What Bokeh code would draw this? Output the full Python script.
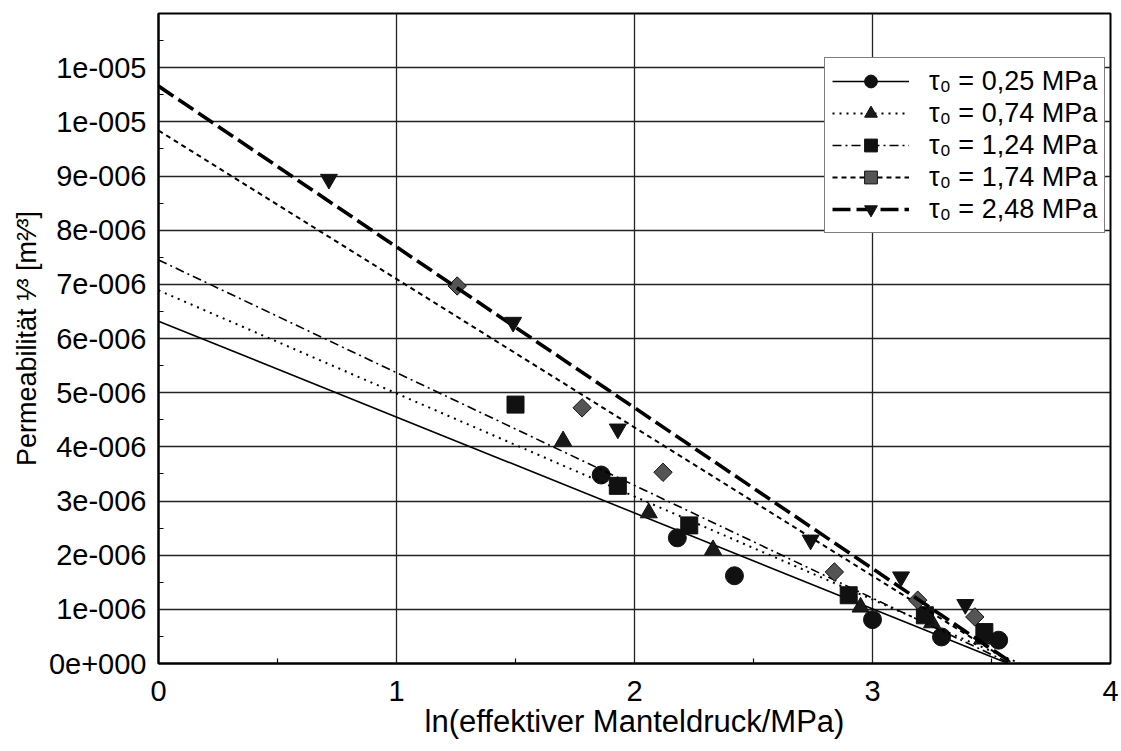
import math
from bokeh.plotting import figure
from bokeh.models import (Range1d, FixedTicker, CustomJSTickFormatter,
                          Legend, LegendItem)
from bokeh.embed import file_html
from bokeh.resources import INLINE

# ---- data ----
series_labels = ["τ₀ = 0,25 MPa", "τ₀ = 0,74 MPa", "τ₀ = 1,24 MPa",
                 "τ₀ = 1,74 MPa", "τ₀ = 2,48 MPa"]

x_025 = [1.86, 2.18, 2.42, 3.00, 3.29, 3.53]
y_025 = [3.48e-6, 2.32e-6, 1.62e-6, 0.81e-6, 0.49e-6, 0.43e-6]

x_074 = [1.70, 2.06, 2.33, 2.95, 3.25, 3.46]
y_074 = [4.11e-6, 2.78e-6, 2.10e-6, 1.04e-6, 0.75e-6, 0.45e-6]

x_124 = [1.50, 1.93, 2.23, 2.90, 3.22, 3.47]
y_124 = [4.78e-6, 3.28e-6, 2.55e-6, 1.26e-6, 0.89e-6, 0.58e-6]

x_174 = [1.255, 1.78, 2.12, 2.84, 3.19, 3.43]
y_174 = [6.97e-6, 4.72e-6, 3.53e-6, 1.69e-6, 1.17e-6, 0.86e-6]

x_248 = [0.716, 1.49, 1.93, 2.74, 3.12, 3.39]
y_248 = [8.94e-6, 6.30e-6, 4.33e-6, 2.28e-6, 1.60e-6, 1.09e-6]

# regression lines: value at x = 0 and x where they reach zero
fit_y0 = [6.32e-6, 6.89e-6, 7.45e-6, 9.84e-6, 10.66e-6]
fit_xend = [3.57, 3.62, 3.58, 3.59, 3.59]

x_ticks = [0, 1, 2, 3, 4]
x_minor = [0.5, 1.5, 2.5, 3.5]
y_ticks = [i * 1e-6 for i in range(0, 12)]
y_minor = [(i + 0.5) * 1e-6 for i in range(0, 12)]

x_title = "ln(effektiver Manteldruck/MPa)"
y_title = "Permeabilität ¹⁄³ [m²⁄³]"

xs = [x_025, x_074, x_124, x_174, x_248]
ys = [y_025, y_074, y_124, y_174, y_248]

# ---- styles ----
markers = ["circle", "triangle", "square", "square", "inverted_triangle"]
angles = [0, 0, 0, math.pi / 4, 0]
sizes = [18, 17, 17, 13, 17]
fills = ["#111111", "#1a1a1a", "#111111", "#555555", "#111111"]
dashes = ["solid", "2 5", "9 4 2 4", "5 4", "18 6"]
widths = [1.6, 2.0, 1.6, 2.0, 3.6]

FONT = "Liberation Sans"

p = figure(width=1121, height=751,
           x_range=Range1d(0, 4), y_range=Range1d(0, 1.2e-5),
           output_backend="svg", toolbar_location=None,
           min_border_left=158, min_border_right=11,
           min_border_top=13, min_border_bottom=88)

p.background_fill_color = "white"
p.border_fill_color = "white"
p.outline_line_color = "black"
p.outline_line_width = 2

# axes
p.xaxis.ticker = FixedTicker(ticks=x_ticks, minor_ticks=x_minor)
p.yaxis.ticker = FixedTicker(ticks=y_ticks, minor_ticks=y_minor)
p.yaxis.formatter = CustomJSTickFormatter(code="""
const m = Math.round(tick * 1e6);
if (m === 0) { return "0e+000"; }
if (m >= 10) { return "1e-005"; }
return m.toFixed(0) + "e-006";
""")
for ax in (p.xaxis[0], p.yaxis[0]):
    ax.axis_line_color = "black"
    ax.axis_line_width = 2
    ax.major_tick_in = 0
    ax.major_tick_out = 0
    ax.minor_tick_in = 5
    ax.minor_tick_out = 0
    ax.minor_tick_line_color = "black"
    ax.minor_tick_line_width = 1.2
    ax.major_label_text_font = FONT
    ax.major_label_text_font_size = "29px"
    ax.major_label_text_color = "black"
    ax.axis_label_text_font = FONT
    ax.axis_label_text_font_style = "normal"
    ax.axis_label_text_color = "black"
p.xaxis.major_label_standoff = 17
p.yaxis.major_label_standoff = 12

p.xaxis.axis_label = x_title
p.xaxis.axis_label_text_font_size = "31px"
p.xaxis.axis_label_standoff = 0

p.yaxis.axis_label = y_title
p.yaxis.axis_label_text_font_size = "27px"
p.yaxis.axis_label_standoff = 4

# grid
p.xgrid.ticker = FixedTicker(ticks=x_ticks)
p.ygrid.ticker = FixedTicker(ticks=y_ticks)
for g in (p.xgrid[0], p.ygrid[0]):
    g.grid_line_color = "#222222"
    g.grid_line_width = 1.3

# data
items = []
for i in range(5):
    lr = p.line([0, fit_xend[i]], [fit_y0[i], 0],
                line_color="black", line_width=widths[i], line_dash=dashes[i])
    sr = p.scatter(xs[i], ys[i], marker=markers[i], size=sizes[i],
                   angle=angles[i],
                   fill_color=fills[i], line_color="#111111", line_width=1)
    items.append(LegendItem(label=series_labels[i], renderers=[lr, sr]))

legend = Legend(items=items, location=(666, 430))
legend.border_line_color = "black"
legend.border_line_width = 1.6
legend.background_fill_color = "white"
legend.background_fill_alpha = 1
legend.label_text_font = FONT
legend.label_text_font_size = "27px"
legend.label_text_color = "black"
legend.glyph_width = 77
legend.glyph_height = 32
legend.label_height = 32
legend.spacing = 0
legend.padding = 7
legend.margin = 0
legend.label_standoff = 20
p.add_layout(legend)

open("out.html", "w").write(file_html(p, INLINE))
